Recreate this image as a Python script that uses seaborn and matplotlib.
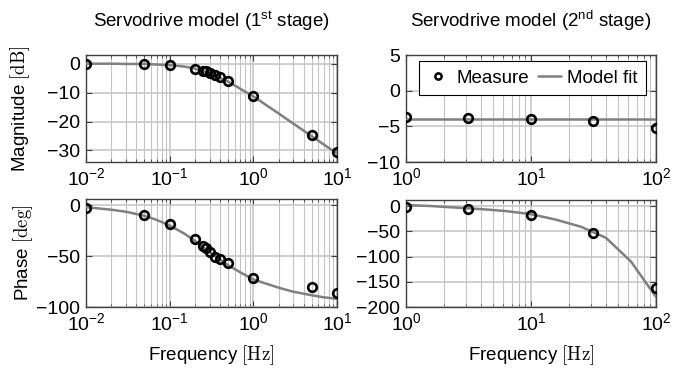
import numpy as np
import pandas as pd
import seaborn as sns
import matplotlib.pyplot as plt
from matplotlib.lines import Line2D
from matplotlib.ticker import LogLocator, NullFormatter

# 1st stage, measured points
f1_meas = [0.01, 0.05, 0.1, 0.2, 0.25, 0.27, 0.3, 0.35, 0.4, 0.5, 1.0, 5.0, 10.0]
mag1_meas = [0.0, 0.0, -0.5, -1.7, -2.4, -2.7, -3.2, -3.9, -4.6, -6.0, -11.1, -24.7, -30.7]
ph1_meas = [-3.3, -9.7, -19.0, -33.0, -40.0, -42.0, -45.7, -50.7, -53.3, -57.3, -71.7, -80.7, -86.0]

# 1st stage, model fit
f1_fit = [0.01, 0.02, 0.03, 0.05, 0.07, 0.1, 0.15, 0.2, 0.3, 0.5, 0.7, 1.0, 2.0, 3.0, 5.0, 7.0, 10.0]
mag1_fit = [0.0, 0.0, -0.1, -0.1, -0.3, -0.5, -1.0, -1.7, -3.3, -6.2, -8.7, -11.3, -17.2, -20.7, -25.1, -28.0, -31.0]
ph1_fit = [-2.0, -4.5, -6.5, -10.5, -14.5, -20.0, -28.0, -35.0, -46.0, -59.0, -66.0, -73.0, -81.0, -85.0, -88.5, -90.5, -92.0]

# 2nd stage, measured points
f2_meas = [1.0, 3.16, 10.0, 31.6, 100.0]
mag2_meas = [-3.66, -3.8, -3.94, -4.2, -5.2]
ph2_meas = [-1.3, -6.7, -17.3, -54.0, -163.0]

# 2nd stage, model fit
f2_fit = [1.0, 1.585, 2.512, 3.981, 6.31, 10.0, 15.85, 25.12, 39.81, 63.1, 100.0]
mag2_fit = [-4.04, -4.04, -4.04, -4.04, -4.04, -4.04, -4.04, -4.04, -4.04, -4.04, -4.04]
ph2_fit = [2.0, 0.0, -3.0, -6.0, -10.0, -16.0, -27.0, -41.0, -63.0, -110.0, -180.0]

titles = [r'Servodrive model ($\mathdefault{1^{st}}$ stage)',
          r'Servodrive model ($\mathdefault{2^{nd}}$ stage)']

sns.set_theme(style='ticks')
plt.rcParams['font.family'] = ['Liberation Sans', 'DejaVu Sans']
plt.rcParams['font.size'] = 13
plt.rcParams['axes.unicode_minus'] = True
plt.rcParams['text.color'] = 'black'
plt.rcParams['axes.labelcolor'] = 'black'
plt.rcParams['xtick.labelcolor'] = 'black'
plt.rcParams['ytick.labelcolor'] = 'black'

fit_color = '#808080'
grid_color = '#c4c4c4'
spine_color = '#404040'

fig = plt.figure(figsize=(6.73, 3.68), dpi=100)
W, H = 673.0, 368.0


def make_ax(l, r, t, b):
    return fig.add_axes([l / W, 1 - b / H, (r - l) / W, (b - t) / H])


ax_tl = make_ax(86, 337, 55, 162)
ax_tr = make_ax(406, 656, 55, 162)
ax_bl = make_ax(86, 337, 199, 307)
ax_br = make_ax(406, 656, 200, 307)


def draw(ax, f_fit, y_fit, f_meas, y_meas):
    fit = pd.DataFrame({'f': f_fit, 'y': y_fit})
    meas = pd.DataFrame({'f': f_meas, 'y': y_meas})
    sns.lineplot(data=fit, x='f', y='y', ax=ax, color=fit_color, lw=1.8,
                 estimator=None, sort=False, zorder=3)
    sns.lineplot(data=meas, x='f', y='y', ax=ax, estimator=None, sort=False,
                 linestyle='none', marker='o', ms=6.2, mfc='none', mec='black',
                 mew=1.9, zorder=4)


def style(ax, xlim, ylim, yticks):
    ax.set_xscale('log')
    ax.set_xlim(*xlim)
    ax.set_ylim(*ylim)
    ax.set_yticks(yticks)
    ax.xaxis.set_minor_locator(LogLocator(base=10, subs=np.arange(2, 10)))
    ax.xaxis.set_minor_formatter(NullFormatter())
    ax.set_axisbelow(True)
    ax.grid(which='major', color=grid_color, lw=1.1)
    ax.grid(which='minor', axis='x', color=grid_color, lw=0.8)
    ax.tick_params(which='both', direction='in', top=True, right=True,
                   color=spine_color, labelsize=14, labelcolor='black')
    ax.tick_params(which='major', length=4, width=0.8, pad=4)
    ax.tick_params(which='minor', length=2.5, width=0.6)
    for s in ax.spines.values():
        s.set_color(spine_color)
        s.set_linewidth(1.0)
    ax.set_xlabel('')
    ax.set_ylabel('')


draw(ax_tl, f1_fit, mag1_fit, f1_meas, mag1_meas)
style(ax_tl, (0.01, 10), (-34, 3), [0, -10, -20, -30])
draw(ax_tr, f2_fit, mag2_fit, f2_meas, mag2_meas)
style(ax_tr, (1, 100), (-10, 5), [5, 0, -5, -10])
draw(ax_bl, f1_fit, ph1_fit, f1_meas, ph1_meas)
style(ax_bl, (0.01, 10), (-100, 6), [0, -50, -100])
draw(ax_br, f2_fit, ph2_fit, f2_meas, ph2_meas)
style(ax_br, (1, 100), (-200, 12), [0, -50, -100, -150, -200])

ax_tl.set_title(titles[0], fontsize=13.5, pad=20)
ax_tr.set_title(titles[1], fontsize=13.5, pad=20)

ax_tl.set_ylabel(r'Magnitude $[\mathrm{dB}]$', fontsize=13.5, math_fontfamily='cm')
ax_tl.yaxis.set_label_coords(-0.215, 0.5)
ax_bl.set_ylabel(r'Phase $[\mathrm{deg}]$', fontsize=13.5, math_fontfamily='cm')
ax_bl.yaxis.set_label_coords(-0.203, 0.5)
for ax in (ax_bl, ax_br):
    ax.set_xlabel(r'Frequency $[\mathrm{Hz}]$', fontsize=13.5, math_fontfamily='cm')
    ax.xaxis.set_label_coords(0.5, -0.335)

handles = [Line2D([], [], linestyle='none', marker='o', ms=4.5, mfc='none',
                  mec='black', mew=1.8),
           Line2D([], [], color=fit_color, lw=1.8)]
leg = ax_tr.legend(handles, ['Measure', 'Model fit'], ncol=2, loc='upper right',
                   bbox_to_anchor=(0.96, 0.944), borderaxespad=0, fontsize=13.5,
                   frameon=True, fancybox=False, framealpha=1, edgecolor='black',
                   handlelength=1.2, handletextpad=0.35, columnspacing=0.5,
                   borderpad=0.45)
leg.get_frame().set_linewidth(0.8)

fig.savefig('out.png', dpi=100)
